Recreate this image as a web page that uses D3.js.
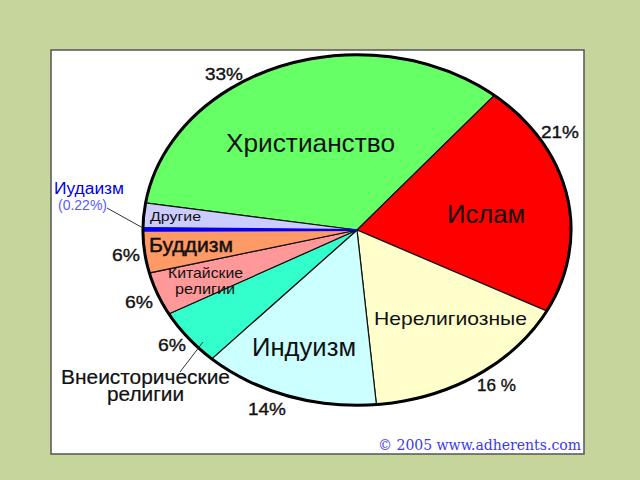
<!DOCTYPE html>
<html><head><meta charset="utf-8">
<script src="https://cdn.jsdelivr.net/npm/d3@7/dist/d3.min.js"></script>
<style>html,body{margin:0;padding:0;background:#c6d59c;overflow:hidden}svg{display:block}
text{font-family:"Liberation Sans",Arial,sans-serif;fill:#111}</style></head><body>
<svg id="c" width="640" height="480"></svg>
<script>
// Slice order runs clockwise from the Christianity / Others border
const categories = ["Христианство","Ислам","Нерелигиозные","Индуизм","Внеисторические религии","Китайские религии","Буддизм","Иудаизм","Другие"];
const shares = [33.6,21.6,15.9,13.3,5.2,4,3.9,0.22,2.3];
const sliceColors = ["#66ff66","#ff0000","#ffffcc","#ccffff","#33ffcc","#ff9999","#ff9966","#0000ee","#ccccff"];
const percentLabels = ["33%","21%","16 %","14%","6%","6%","6%"];
const startDeg = -81.1;

const svg = d3.select("#c");
svg.append("rect").attr("x",51).attr("y",50).attr("width",533).attr("height",404)
  .attr("fill","#fff").attr("stroke","#555").attr("stroke-width",1.5);

const rx = 214, ry = 175, cx = 357, cy = 230;
const ang = d3.scaleLinear().domain([0,1]).range([startDeg*Math.PI/180,(startDeg+360)*Math.PI/180]);
const pie = d3.pie().sort(null).value(d=>d).startAngle(ang(0)).endAngle(ang(1));
const arc = d3.arc().innerRadius(0).outerRadius(rx);
const pieG = svg.append("g").attr("transform",`translate(${cx},${cy}) scale(1,${ry/rx})`);
const arcs = pie(shares);
pieG.selectAll("path.s").data(arcs).join("path").attr("class","s")
  .attr("d",arc).attr("fill",(d,i)=>sliceColors[i])
  .attr("stroke",(d,i)=>i===7?"#0000ee":"#111")
  .attr("stroke-width",(d,i)=>i===7?2:1.2)
  .attr("vector-effect","non-scaling-stroke");
// redraw the thin Judaism wedge so its blue stays on top
pieG.append("path").attr("d",arc(arcs[7])).attr("fill","#0000ee").attr("stroke","#0000ee")
  .attr("stroke-width",2).attr("vector-effect","non-scaling-stroke");
pieG.append("path")
  .attr("d",d3.arc().innerRadius(rx).outerRadius(rx)({startAngle:ang(0),endAngle:ang(1)}))
  .attr("fill","none").attr("stroke","#000").attr("stroke-width",3)
  .attr("vector-effect","non-scaling-stroke");

// leader lines
const leaders = [[107,208,143,228],[203,342,180,372]];
svg.selectAll("line.l").data(leaders).join("line").attr("class","l")
  .attr("x1",d=>d[0]).attr("y1",d=>d[1]).attr("x2",d=>d[2]).attr("y2",d=>d[3])
  .attr("stroke","#333").attr("stroke-width",1);

// [text, left x, baseline y, size, width, colour, outline]
const textLayout = [
 [categories[0],226,152,25,169],
 ["Ислам",447,223,25,78],
 [categories[2],374,325,19,153],
 [categories[3],252,356,25,104],
 [categories[6],149,252,21,84,"#111",0.5],
 [categories[8],150,221,13.5,51],
 ["Китайские",168,278,15,75],
 ["религии",175,294,15,60],
 [categories[7],54,194,16,70,"#0000ee"],
 ["(0.22%)",58,210,14,49,"#5a5aff"],
 [percentLabels[0],205,80,17,38,"#111",0.35],
 [percentLabels[1],541,138,17,38,"#111",0.35],
 [percentLabels[2],477,391,17,39,"#111",0.35],
 [percentLabels[3],248,415,17,38,"#111",0.35],
 [percentLabels[4],158,351,17,28,"#111",0.35],
 [percentLabels[5],125,308,17,28,"#111",0.35],
 [percentLabels[6],112,261,17,28,"#111",0.35]
];
svg.selectAll("text.t").data(textLayout).join("text").attr("class","t")
  .attr("x",d=>d[1]).attr("y",d=>d[2]).attr("font-size",d=>d[3])
  .attr("textLength",d=>d[4]).attr("lengthAdjust","spacingAndGlyphs")
  .style("fill",d=>d[5]||"#111")
  .attr("stroke",d=>d[6]?(d[5]||"#111"):null).attr("stroke-width",d=>d[6]||null)
  .text(d=>d[0]);

// two-line label set as one text
const ethnoLines = [["Внеисторические",61,384,169],["религии",107,401,77]];
svg.append("text").attr("font-size",19.5).attr("stroke","#111").attr("stroke-width",0.2)
  .selectAll("tspan").data(ethnoLines).join("tspan")
  .attr("x",d=>d[1]).attr("y",d=>d[2]).attr("textLength",d=>d[3])
  .attr("lengthAdjust","spacingAndGlyphs").text(d=>d[0]);

svg.append("text").attr("x",378).attr("y",450).attr("font-size",14.5)
  .attr("textLength",203).attr("lengthAdjust","spacingAndGlyphs")
  .style("font-family","'DejaVu Serif',serif").style("fill","#3a3af0")
  .text("© 2005 www.adherents.com");
</script></body></html>
